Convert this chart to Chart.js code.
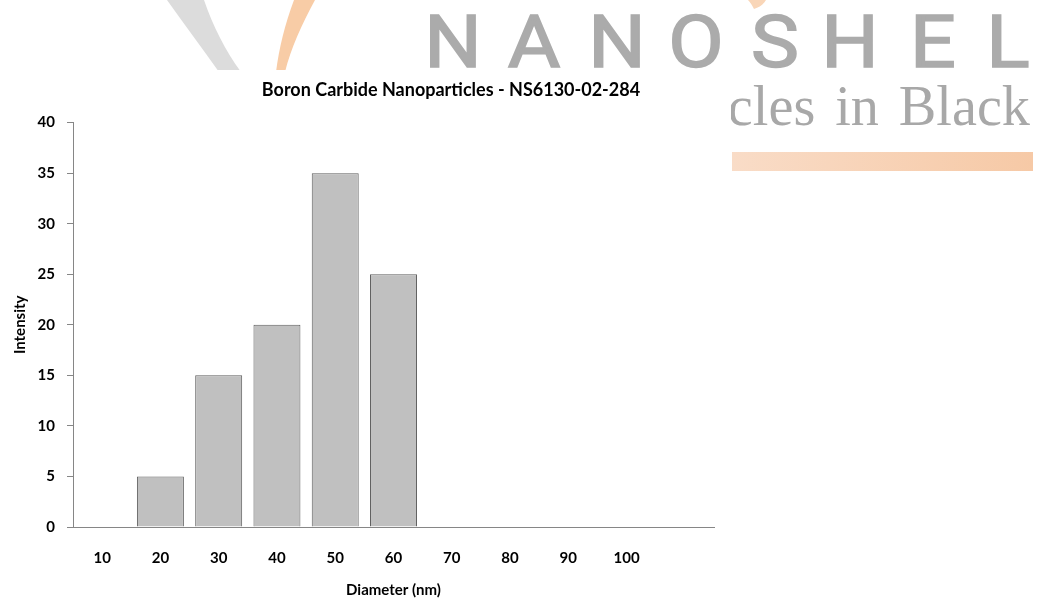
<!DOCTYPE html>
<html>
<head>
<meta charset="utf-8">
<script src="https://cdn.jsdelivr.net/npm/chart.js@4.4.1/dist/chart.umd.min.js"></script>
<style>
  html, body { margin: 0; padding: 0; background: #fff; }
  #stage { position: relative; width: 1037px; height: 599px; overflow: hidden; background: #fff; }
  #brand { position: absolute; left: 0; top: 0; }
  #sheet { position: absolute; left: 0; top: 70px; width: 731px; height: 529px; background: #fff; }
  #plot { position: absolute; left: 0; top: 0; width: 902px; height: 599px; }
</style>
</head>
<body>
<div id="stage">
  <!-- company letterhead behind the chart -->
  <svg id="brand" width="1037" height="599" viewBox="0 0 1037 599">
    <defs>
      <linearGradient id="band" x1="0" x2="1" y1="0" y2="0">
        <stop offset="0" stop-color="#f9dcc7"/>
        <stop offset="1" stop-color="#f6c9a6"/>
      </linearGradient>
    </defs>
    <path d="M167 0 L204 0 C213 26 225 50 241 72 L219 72 C202 48 184 24 167 0 Z" fill="#dcdcdc"/>
    <path d="M294 0 L315 0 C302 24 291 48 285 72 L276 72 C279 48 285 24 294 0 Z" fill="#f8cca6"/>
    <path d="M748 0 L766 0 C764 4 760 7 754 9 C752 5 750 2 748 0 Z" fill="#f9d6b8"/>
    <g font-family="Roboto" font-size="72" fill="#ababab" stroke="#ababab" stroke-width="1.6" text-anchor="middle">
      <text transform="translate(453,67) scale(1.12,1)">N</text>
      <text transform="translate(534,67) scale(1.12,1)">A</text>
      <text transform="translate(617,67) scale(1.12,1)">N</text>
      <text transform="translate(696,67) scale(1.12,1)">O</text>
      <text transform="translate(775,67) scale(1.12,1)">S</text>
      <text transform="translate(850,67) scale(1.12,1)">H</text>
      <text transform="translate(933,67) scale(1.12,1)">E</text>
      <text transform="translate(1008,67) scale(1.12,1)">L</text>
    </g>
    <text transform="translate(1030,125) scale(0.97,1)" text-anchor="end" font-family="Liberation Serif" font-size="58" fill="#a8a8a8" word-spacing="6">Particles in Black</text>
    <rect x="732" y="152" width="301" height="19" fill="url(#band)"/>
  </svg>
  <div id="sheet"></div>
  <div id="plot"><canvas id="chart"></canvas></div>
</div>
<script>
// Particle size distribution (DLS), intensity per diameter bin
const diameters = ['10', '20', '30', '40', '50', '60', '70', '80', '90', '100', ''];
const intensity = [0, 5, 15, 20, 35, 25, 0, 0, 0, 0, 0];
const intensityMin = 0;
const intensityMax = 40;
const intensityStep = 5;

const chartTitle = 'Boron Carbide Nanoparticles - NS6130-02-284';
const xTitle = 'Diameter (nm)';
const yTitle = 'Intensity';

const axisGrey = '#868686';
const boldFont = (size) => ({ family: 'Lato', weight: 'bold', size: size });

new Chart(document.getElementById('chart'), {
  type: 'bar',
  data: {
    labels: diameters,
    datasets: [{
      data: intensity,
      backgroundColor: '#c0c0c0',
      borderColor: '#5f5f5f',
      borderWidth: 1,
      barPercentage: 0.806,
      categoryPercentage: 1.0
    }]
  },
  options: {
    responsive: true,
    maintainAspectRatio: false,
    animation: false,
    layout: { padding: 0 },
    plugins: {
      legend: { display: false },
      tooltip: { enabled: false },
      title: {
        display: true,
        text: chartTitle,
        color: '#000',
        font: boldFont(18),
        padding: { top: 79, bottom: 22 }
      }
    },
    scales: {
      x: {
        grid: { display: false, drawTicks: false },
        border: { display: true, color: axisGrey, width: 1 },
        ticks: {
          color: '#000',
          font: boldFont(15),
          padding: 22,
          maxRotation: 0,
          autoSkip: false
        },
        title: {
          display: true,
          text: xTitle,
          color: '#000',
          font: boldFont(15),
          padding: { top: 0, bottom: 0 }
        },
        afterFit(scale) { scale.height = 72; }
      },
      y: {
        min: intensityMin,
        max: intensityMax,
        ticks: {
          stepSize: intensityStep,
          color: '#000',
          font: boldFont(15),
          padding: 12
        },
        grid: {
          display: true,
          drawOnChartArea: false,
          drawTicks: true,
          tickLength: 6,
          color: axisGrey
        },
        border: { display: true, color: axisGrey, width: 1 },
        title: {
          display: true,
          text: yTitle,
          color: '#000',
          font: boldFont(15),
          padding: { top: 11, bottom: 0 }
        },
        afterFit(scale) { scale.width = 73; }
      },
      // empty margin on the right of the plot, keeps the title centred on the full sheet
      margin: {
        type: 'linear',
        position: 'right',
        display: true,
        grid: { display: false, drawTicks: false },
        border: { display: false },
        ticks: { display: false },
        afterFit(scale) { scale.width = 188; }
      }
    }
  }
});
</script>
</body>
</html>
